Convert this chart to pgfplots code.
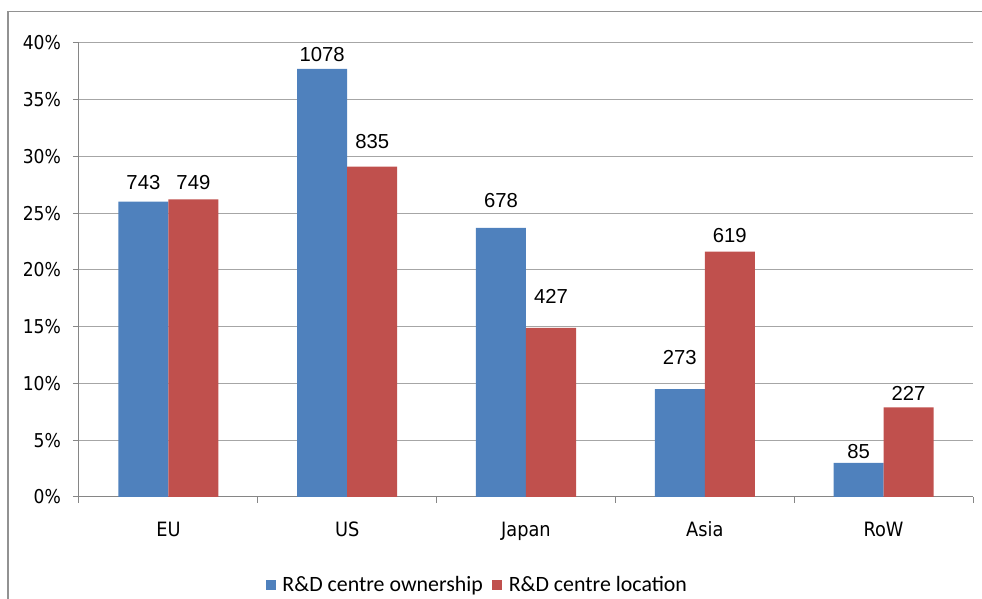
\documentclass[border=0pt]{standalone}
\usepackage{pgfplots}
\pgfplotsset{compat=1.18}
\usepackage{pgfplotstable}
\usepackage{fontspec}
\setmainfont{Liberation Sans}
\newfontfamily\tickfont{DejaVu Sans Condensed}
\newfontfamily\legfont{Carlito}
\definecolor{cblue}{HTML}{4F81BD}
\definecolor{cred}{HTML}{C0504D}
\definecolor{gridc}{HTML}{A6A6A6}
\definecolor{axc}{HTML}{868686}

\pgfplotstableread{
x y lab off
0 26.0 743 14.25
1 37.7 1078 10.5
2 23.7 678 20.25
3 9.5 273 24
4 3.0 85 8.25
}\ownership
\pgfplotstableread{
x y lab off
0 26.2 749 12.5
1 29.1 835 18.75
2 14.9 427 23.25
3 21.6 619 12
4 7.9 227 10.5
}\location

\begin{document}
\begin{tikzpicture}
\begin{axis}[
  at={(0pt,0pt)}, anchor=south west,
  scale only axis,
  width=670.5pt, height=340.7pt,
  ybar=0pt, bar width=37.5pt,
  xmin=-0.5, xmax=4.5,
  ymin=0, ymax=40,
  ytick={0,5,...,40},
  yticklabel={\pgfmathprintnumber{\tick}\%},
  /pgf/number format/assume math mode=true,
  yticklabel style={font=\tickfont\fontsize{14.3}{16}\selectfont, anchor=east, xshift=-5.5pt},
  xtick={-0.5,0.5,...,4.5},
  xticklabels={},
  extra x ticks={0,1,2,3,4},
  extra x tick labels={EU,US,Japan,Asia,RoW},
  extra x tick style={major tick length=0pt, xticklabel style={font=\tickfont\fontsize{14.8}{17}\selectfont, anchor=base, yshift=-30pt}},
  tick align=outside,
  major tick length=4.5pt,
  tick style={axc, line width=0.75pt},
  axis x line*=bottom, axis y line*=left,
  axis line style={axc, line width=0.75pt},
  ymajorgrids,
  major grid style={gridc, line width=0.75pt},
  nodes near coords,
  point meta=explicit symbolic,
  nodes near coords style={font=\fontsize{15.2}{17}\selectfont, text=black},
  legend columns=2,
  legend style={at={(axis description cs:0.446,-0.194)}, anchor=center, draw=none, fill=none,
    font=\legfont\fontsize{16.4}{19}\selectfont,
    /tikz/every even column/.append style={column sep=5pt}},
  legend image code/.code={\fill[#1] (0pt,-3.75pt) rectangle (7.5pt,3.75pt); \path (10.5pt,0pt);},
]
\addplot[fill=cblue, draw=none,
  visualization depends on={\thisrow{off} \as \myoff},
  nodes near coords style={anchor=center, yshift=\myoff pt}]
  table[x=x, y=y, meta=lab] {\ownership};
\addlegendentry{R\&D centre ownership}
\addplot[fill=cred, draw=none,
  visualization depends on={\thisrow{off} \as \myoff},
  nodes near coords style={anchor=center, yshift=\myoff pt}]
  table[x=x, y=y, meta=lab] {\location};
\addlegendentry{R\&D centre location}
\end{axis}
\draw[color=axc!90, line width=1.4pt] (-53.25pt,-120pt) -- (-53.25pt,364.1pt) -- (720pt,364.1pt);
\pgfresetboundingbox
\path[use as bounding box] (-59.25pt,-76.5pt) rectangle (677.25pt,372.75pt);
\end{tikzpicture}
\end{document}
